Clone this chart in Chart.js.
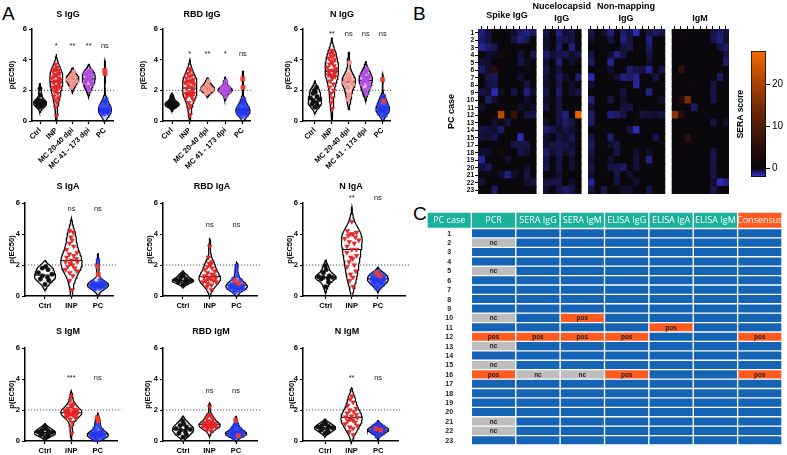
<!DOCTYPE html>
<html>
<head>
<meta charset="utf-8">
<title>Serology panels</title>
<script src="https://cdn.jsdelivr.net/npm/chart.js@4.4.1/dist/chart.umd.min.js"></script>
<style>
  body { margin: 0; background: #fff; }
  #page { position: relative; width: 787px; height: 455px; overflow: hidden; font-family: "Liberation Sans", Arial, sans-serif; }
  #page canvas { position: absolute; }
  .tag { position: absolute; font-size: 19px; line-height: 1; color: #000; }
</style>
</head>
<body>
<div id="page">
  <div class="tag" style="left:2px;top:4px">A</div>
  <div class="tag" style="left:413px;top:4px">B</div>
  <div class="tag" style="left:413px;top:204px">C</div>
</div>
<script>
Chart.defaults.font.family = '"Liberation Sans", Arial, sans-serif';
Chart.defaults.color = '#000';

const CAT5 = ['Ctrl', 'INP', 'MC 20-40 dpi', 'MC 41 - 173 dpi', 'PC'];
const CAT3 = ['Ctrl', 'INP', 'PC'];

// ---- panel A values, p(EC50) ----
const sIgG_ctrl = [0.9, 1.0, 1.05, 1.1, 1.15, 1.2, 1.25, 1.3, 1.4, 1.7, 2.1];
const sIgG_inp = [0.35, 0.9, 1.2, 1.4, 1.5, 1.6, 1.8, 1.9, 2.0, 2.1, 2.2, 2.2, 2.3, 2.4, 2.5, 2.6, 2.6, 2.7, 2.8, 2.8, 2.9, 3.0, 3.0, 3.1, 3.2, 3.3, 3.3, 3.4, 3.5, 3.7];
const sIgG_mc1 = [2.2, 2.4, 2.5, 2.6, 2.7, 2.8, 2.8, 2.9, 3.0, 3.2];
const sIgG_mc2 = [2.0, 2.2, 2.4, 2.5, 2.6, 2.7, 2.8, 2.9, 3.0, 3.1, 3.2, 3.3];
const sIgG_pc = [0.45, 0.5, 0.55, 0.6, 0.6, 0.62, 0.65, 0.68, 0.7, 0.7, 0.72, 0.75, 0.8, 0.85, 0.9, 1.0, 1.1, 1.2, 1.3, 1.4, 0.6];
const sIgG_pcPos = [3.3, 3.1];
const sIgG_sig = ['*', '**', '**', 'ns'];

const rbdIgG_ctrl = [0.85, 0.95, 1.0, 1.05, 1.1, 1.1, 1.15, 1.2, 1.3, 1.4, 1.6];
const rbdIgG_inp = [0.4, 0.8, 1.0, 1.2, 1.4, 1.5, 1.6, 1.7, 1.7, 1.75, 1.8, 1.8, 1.9, 2.0, 2.1, 2.2, 2.3, 2.4, 2.5, 2.5, 2.55, 2.6, 2.6, 2.7, 2.8, 2.9, 3.0, 3.1, 3.3, 3.4];
const rbdIgG_mc1 = [1.8, 1.9, 2.0, 2.05, 2.1, 2.15, 2.2, 2.3, 2.4, 2.6];
const rbdIgG_mc2 = [1.6, 1.8, 1.9, 1.95, 2.0, 2.0, 2.05, 2.1, 2.15, 2.2, 2.4, 2.6];
const rbdIgG_pc = [0.3, 0.4, 0.45, 0.5, 0.55, 0.6, 0.6, 0.62, 0.65, 0.7, 0.7, 0.75, 0.8, 0.85, 0.9, 1.0, 1.1, 1.2, 1.3, 1.4, 0.55];
const rbdIgG_pcPos = [2.75, 2.2];
const rbdIgG_sig = ['*', '**', '*', 'ns'];

const nIgG_ctrl = [0.9, 1.0, 1.1, 1.2, 1.3, 1.4, 1.5, 1.6, 1.8, 1.9, 2.0, 2.2];
const nIgG_inp = [0.8, 1.2, 1.5, 1.8, 2.0, 2.2, 2.4, 2.6, 2.8, 2.9, 2.9, 3.0, 3.0, 3.1, 3.2, 3.3, 3.3, 3.4, 3.5, 3.6, 3.7, 3.8, 3.9, 4.0, 4.1, 4.2, 4.3, 4.4, 4.5, 4.6];
const nIgG_mc1 = [1.4, 1.7, 2.2, 2.4, 2.5, 2.6, 2.7, 2.8, 3.0, 3.8];
const nIgG_mc2 = [1.8, 2.0, 2.2, 2.4, 2.5, 2.6, 2.7, 2.8, 2.9, 3.0, 3.2, 3.4];
const nIgG_pc = [0.3, 0.4, 0.5, 0.55, 0.6, 0.65, 0.7, 0.7, 0.75, 0.8, 0.85, 0.9, 0.95, 1.0, 1.1, 1.2, 1.3, 1.4, 1.5, 1.6, 0.8];
const nIgG_pcPos = [2.7, 1.3];
const nIgG_sig = ['**', 'ns', 'ns', 'ns'];

const sIgA_ctrl = [0.75, 1.0, 1.1, 1.2, 1.3, 1.4, 1.5, 1.7, 1.8, 1.9];
const sIgA_inp = [0.4, 1.0, 1.3, 1.5, 1.6, 1.7, 1.8, 1.9, 2.0, 2.1, 2.2, 2.2, 2.3, 2.4, 2.5, 2.6, 2.7, 2.8, 3.0, 3.2, 3.4, 3.6, 3.8, 4.1, 4.2];
const sIgA_pc = [0.45, 0.5, 0.55, 0.6, 0.6, 0.62, 0.65, 0.65, 0.7, 0.7, 0.7, 0.72, 0.75, 0.75, 0.8, 0.8, 0.85, 0.9, 1.0, 2.0, 2.3];
const sIgA_pcPos = [1.9, 1.4];
const sIgA_sig = ['ns', 'ns'];

const rbdIgA_ctrl = [0.75, 0.85, 0.9, 0.95, 1.0, 1.0, 1.05, 1.1, 1.2, 1.3, 1.4];
const rbdIgA_inp = [0.4, 0.6, 0.7, 0.8, 0.9, 0.9, 1.0, 1.0, 1.1, 1.1, 1.15, 1.2, 1.2, 1.3, 1.3, 1.4, 1.5, 1.6, 1.7, 1.8, 1.9, 2.0, 2.1, 2.2, 2.5, 3.2];
const rbdIgA_pc = [0.25, 0.35, 0.4, 0.45, 0.5, 0.5, 0.55, 0.55, 0.6, 0.6, 0.65, 0.7, 0.7, 0.75, 0.8, 0.9, 1.0, 1.1, 1.3, 1.6, 1.9];
const rbdIgA_pcPos = [1.0, 0.8];
const rbdIgA_sig = ['ns', 'ns'];

const nIgA_ctrl = [0.6, 0.9, 1.1, 1.15, 1.2, 1.2, 1.25, 1.3, 1.5, 1.7, 1.95];
const nIgA_inp = [0.6, 1.0, 1.2, 1.4, 1.6, 1.9, 2.0, 2.2, 2.4, 2.5, 2.6, 2.8, 3.0, 3.0, 3.2, 3.4, 3.5, 3.6, 3.7, 3.8, 3.9, 4.0, 4.0, 4.1, 4.2, 4.8];
const nIgA_pc = [0.5, 0.6, 0.7, 0.75, 0.8, 0.85, 0.9, 0.95, 1.0, 1.0, 1.05, 1.1, 1.1, 1.15, 1.2, 1.25, 1.3, 1.35, 1.4, 1.5, 1.6];
const nIgA_pcPos = [1.5, 1.3];
const nIgA_sig = ['**', 'ns'];

const sIgM_ctrl = [0.25, 0.35, 0.4, 0.45, 0.5, 0.55, 0.6, 0.65, 0.7, 0.8, 0.9];
const sIgM_inp = [0.5, 0.9, 1.2, 1.4, 1.5, 1.55, 1.6, 1.65, 1.7, 1.7, 1.75, 1.8, 1.8, 1.85, 1.9, 1.9, 1.95, 2.0, 2.0, 2.05, 2.1, 2.2, 2.3, 2.4, 2.6, 2.9];
const sIgM_pc = [0.1, 0.15, 0.2, 0.25, 0.3, 0.3, 0.35, 0.35, 0.4, 0.4, 0.45, 0.45, 0.5, 0.5, 0.55, 0.6, 0.7, 0.8, 0.9, 1.1, 1.2];
const sIgM_pcPos = [1.5, 1.3];
const sIgM_sig = ['***', 'ns'];

const rbdIgM_ctrl = [0.25, 0.4, 0.5, 0.6, 0.7, 0.75, 0.8, 0.9, 1.0, 1.1, 1.3];
const rbdIgM_inp = [0.6, 0.7, 0.8, 0.85, 0.9, 0.9, 0.95, 1.0, 1.0, 1.05, 1.1, 1.1, 1.15, 1.2, 1.25, 1.3, 1.4, 1.5, 1.6, 1.7, 2.2, 1.0];
const rbdIgM_pc = [0.2, 0.25, 0.3, 0.35, 0.4, 0.4, 0.45, 0.45, 0.5, 0.5, 0.55, 0.6, 0.6, 0.65, 0.7, 0.75, 0.8, 0.9, 1.0, 1.1, 0.5];
const rbdIgM_pcPos = [1.35, 0.35];
const rbdIgM_sig = ['ns', 'ns'];

const nIgM_ctrl = [0.5, 0.6, 0.7, 0.75, 0.8, 0.85, 0.9, 0.95, 1.0, 1.1, 1.2];
const nIgM_inp = [0.4, 0.6, 0.8, 0.9, 1.0, 1.1, 1.2, 1.3, 1.35, 1.4, 1.5, 1.55, 1.6, 1.7, 1.8, 1.9, 2.0, 2.1, 2.3, 2.5, 2.7, 2.9];
const nIgM_pc = [0.3, 0.4, 0.45, 0.5, 0.55, 0.6, 0.6, 0.65, 0.7, 0.7, 0.75, 0.75, 0.8, 0.8, 0.85, 0.9, 0.95, 1.0, 1.05, 1.1, 0.65];
const nIgM_pcPos = [0.8, 0.7];
const nIgM_sig = ['**', 'ns'];

const yTicksA = [0, 2, 4, 6];
const cutoff = 2;

// ---- panel B: SERA scores, rows = PC case ----
const hmRows = ['1', '2', '3', '4', '5', '6', '7', '8', '9', '10', '11', '12', '13', '14', '15', '17', '18', '19', '20', '21', '22', '23'];
const spikeIgG = [
  [-1, -0.5, 0.5, 0, 0, -0.3, -0.8, -1, -0.7],
  [-0.8, -0.5, 0, 0, 0, -0.5, -1, -0.6, 0],
  [-1.2, -0.8, -0.6, 0, 0, 0.3, 0, 0, 0],
  [0, -0.3, -0.2, 2, 0.5, 0, -0.4, 0, -0.5],
  [-0.4, -0.3, 0, 0, 0, 0, -0.5, -0.2, 0],
  [-0.8, -0.3, 5, 0, 0, 0, 0, 1.5, 1],
  [0, -0.5, -0.7, 0, 0, 0, -0.3, 0, 0],
  [0, -0.4, -0.5, 0, 0, 0, 0, -0.5, 0],
  [-0.5, -0.3, -1.5, -0.2, 0, -0.5, 0, -1, -0.3],
  [0, -0.8, -0.3, 0, 0, 0, 0, -0.3, 0],
  [-0.3, 0, 0, 0, 0, 0, -0.3, 0, -0.2],
  [0, 0.5, 1, 22, 0.5, 7, 0, -0.5, -0.5],
  [0, 0, -0.3, 0.8, -0.5, 0, 0, 0, 0],
  [-0.5, -0.4, -0.3, -0.8, 0, 0, 0, 0, 0.3],
  [-0.4, -0.3, -0.6, 0, 0, 0, -1.5, 0, 0],
  [0, 0, 0, 0, 0, -0.5, -0.5, -0.5, 0],
  [-0.3, -0.3, 0, 2, 0, 0, -0.5, -0.3, 0],
  [-1.2, 0, 0, 0, -0.3, 0, 0, 0.3, 0],
  [-0.4, -0.7, 0, 0, 0, 0, 0, -0.3, 0],
  [0.8, 0, 0, -0.3, -1, -0.3, 0, -0.5, 0],
  [-0.4, 0.5, 0, 0, 0, 0, 0.3, -0.3, -0.5],
  [0, 0, -0.8, 0, 0, 0, 0, 0, 0]
];
const nucIgG = [
  [-0.5, 0, -1, -0.3, -0.5, 0],
  [-0.3, 0, -0.6, -0.6, -0.5, 0.5],
  [-0.3, 0, -0.8, 0, -1, 0],
  [-0.8, -0.4, -0.5, -0.6, -0.3, -0.5],
  [-0.4, 0, -0.9, 0, -0.3, 0],
  [-0.6, 0, -0.4, 0, 0, 0],
  [-0.3, 0, -0.7, -0.3, 0, -0.9],
  [-0.3, 0, -0.6, 0, -0.3, 0],
  [-0.5, 0, -0.8, 0.3, -0.3, -0.5],
  [-0.3, 0, -0.5, 0, 0, 0],
  [-0.5, 0, -0.5, 0, 0, 0],
  [0, 0, -0.5, -1, 0, 27],
  [-0.3, 0, -0.4, -0.8, -0.5, 0],
  [-0.8, -0.6, -0.3, -0.5, -0.3, 0],
  [-0.3, 0, -0.5, -0.3, -0.6, 0],
  [-0.3, -0.5, -0.6, -0.5, -0.3, 0],
  [-0.8, -0.3, -0.6, -0.3, -0.5, 0],
  [-0.5, 0, -0.5, 0, -0.3, 0],
  [-0.6, 0, -0.5, 0, -0.3, 0],
  [0, 0, -0.3, 0, 0, 0],
  [-0.5, -0.5, -0.5, 0.3, -0.3, 0],
  [-0.3, 0, -0.5, -0.8, -0.5, 0]
];
const nonmapIgG = [
  [-0.5, 0, -0.3, -1, 0, -0.8, -0.5, -1.5, 0, -0.5, -0.8, -0.5],
  [-0.3, 0, 0, -0.5, 0, -1, -0.5, 0, 0, -1, 0, 0],
  [0, 0, 0, 0, 0, -0.4, -0.6, 0, 0, -0.8, 0, 0],
  [-0.5, 0, 0, -0.3, -1, -0.5, 0, 0, 0, -0.5, 0, 0],
  [-0.8, 0, 0, -1.2, 0, 0, 0, 0, 0, -0.3, 0, 0],
  [0, 0, 0, -0.3, 0, 0, -0.8, -0.5, -0.4, -1.2, 0, -0.5],
  [-1.5, 0, 0, 0, -0.3, -1, -0.8, -1.2, 0, 0, -0.5, 0],
  [-0.3, 0, 0, 0, 0, 0, 0, -1.3, 0, 0, 0, 0],
  [0, 0, 0, 0, 0, -0.4, 0, 0, 0, -1, 0, 0],
  [-1, 0, 0, -0.5, 0, -0.3, 0, 0, 0, 0, 0, -0.3],
  [-0.3, 0, 0, 0, 0, -0.4, -0.5, 0, 0, 0, 0, 0],
  [-0.8, 0, 0, -1, -0.8, -0.5, 0, 0, -0.5, -0.4, -0.3, -0.5],
  [-0.8, 0, 0, 0, 0.5, 0, 0, 0.5, 0, 0, 0, 0],
  [0, 0, 0, 0, 0, 0, -0.5, -1.5, 0, 0, 0, 0],
  [-0.5, 0, 0, -0.8, 0, 0, 0, 0, 0, 0, -0.5, 0],
  [-0.8, 0, 0, -0.3, -0.5, 0, 0, 0, 0, 0, 0, 0],
  [-0.5, 0, 0, 0, -0.5, 0, 0, -0.3, 0, -0.3, 0, 0],
  [-0.3, 0, 0, -0.3, 0, 0, 0, -0.4, 0, -1, 0, 0],
  [-0.6, 0, 0, -0.5, -0.5, -0.8, 0, -0.4, 0, 0, 0, 0],
  [-0.3, 0, 0, 0, -0.5, 0, -0.3, 0, 0, 0, 0, 0],
  [-1.2, 0, 0, 0, -0.4, 0, 0, -0.3, 0, 0, 0, 0],
  [-0.5, 0, -0.6, 0, 0, -0.3, -0.3, 0, 0, -0.5, 0, 0]
];
const igM = [
  [0, 0.5, 0.3, 0, 0, 0, -0.5, -0.8, -0.5],
  [0, 0.5, 0, 0, 0, 0, -0.6, -1, -0.3],
  [0, 0, 0, 0, 0, 0, 0, -0.5, -0.8],
  [0, 0, 0, 0, 0, 0, 0, 0, -0.5],
  [0, 0, 0, 0, 0, 0, 0, 0, -0.8],
  [0, 6, 0, 0, 0, 0, 0, 0, 0],
  [0, 0, 0, 0, 0, 0, 0, -0.8, 0],
  [0, 0, 0.5, 0, 0, 0, -0.5, 0, 0],
  [0, 0, 0, 0, 0, 0, -0.5, 0, 0],
  [0, 4, 15, 0, 0, 0, -0.5, 0, 0],
  [0, 0, 0, -0.8, 0, 0, 0, 0, 0],
  [17, 5, 0, 0, 0, 0, 0, 0, 0],
  [0, 0, 0, 0, 0, 0, -0.5, 0, -0.3],
  [0, 0.5, 0, 0, 0, 0, 0, 0, 0],
  [0, 0, 6, 0, 0, 0, 0, 0, 0],
  [0, 0, 0, 0, 0, 0, 0, 0, 0],
  [0, 0.5, 0, 0, 0, 0, -0.5, 0, 0],
  [0, 0, 0, 0, 0, 0, -0.6, 0, 0],
  [0, 0, 0, 0, 0, 0, -0.5, 0, 0],
  [0, 0, 0, 0, 0, 0, -0.5, 0, 0],
  [0, 0, 0, 0, 0, 0, -0.3, -1.5, -1],
  [0, 0, 0, 0, 0, 0, -0.6, 0, 0]
];
const blockNames = [['Spike IgG'], ['Nucelocapsid', 'IgG'], ['Non-mapping', 'IgG'], ['IgM']];
const cbMin = -2, cbMax = 28;
const cbTicks = [0, 10, 20];

// ---- panel C: call table ----
const tblCols = ['PC case', 'PCR', 'SERA IgG', 'SERA IgM', 'ELISA IgG', 'ELISA IgA', 'ELISA IgM', 'Consensus'];
const tblCases = ['1', '2', '3', '4', '5', '6', '7', '8', '9', '10', '11', '12', '13', '14', '15', '16', '17', '18', '19', '20', '21', '22', '23'];
const pcr       = ['', 'nc', '', '', 'nc', '', '', '', '', 'nc', '', 'pos', 'nc', '', 'nc', 'pos', '', '', '', '', 'nc', 'nc', ''];
const seraIgG   = ['', '', '', '', '', '', '', '', '', '', '', 'pos', '', '', '', 'nc', '', '', '', '', '', '', ''];
const seraIgM   = ['', '', '', '', '', '', '', '', '', 'pos', '', 'pos', '', '', '', 'nc', '', '', '', '', '', '', ''];
const elisaIgG  = ['', '', '', '', '', '', '', '', '', '', '', 'pos', '', '', '', 'pos', '', '', '', '', '', '', ''];
const elisaIgA  = ['', '', '', '', '', '', '', '', '', '', 'pos', '', '', '', '', '', '', '', '', '', '', '', ''];
const elisaIgM  = ['', '', '', '', '', '', '', '', '', '', '', '', '', '', '', '', '', '', '', '', '', '', ''];
const consensus = ['', '', '', '', '', '', '', '', '', '', '', 'pos', '', '', '', 'pos', '', '', '', '', '', '', ''];

// ---------------------------------------------------------------
const page = document.getElementById('page');

function addCanvas(box) {
  const c = document.createElement('canvas');
  c.width = box[2];
  c.height = box[3];
  c.style.left = box[0] + 'px';
  c.style.top = box[1] + 'px';
  page.appendChild(c);
  return c;
}

const STYLE = {
  'Ctrl': { pt: '#111', edge: '#111', shape: 'circle', rot: 0, r: 2.2, fill: 'rgba(255,255,255,0.85)' },
  'INP': { pt: '#f3262c', edge: '#c81818', shape: 'triangle', rot: 180, r: 2.7, fill: 'rgba(255,255,255,0.85)' },
  'MC 20-40 dpi': { pt: '#f39a94', edge: '#e57f78', shape: 'circle', rot: 0, r: 2.2, fill: '#f7c2bd' },
  'MC 41 - 173 dpi': { pt: '#b652e6', edge: '#9d3ccf', shape: 'circle', rot: 0, r: 2.2, fill: '#ddb2f2' },
  'PC': { pt: 'rgba(35,55,240,0.8)', edge: 'rgba(35,55,240,0.9)', shape: 'rect', rot: 0, r: 2.7, fill: 'rgba(120,140,255,0.35)' }
};

function median(a) {
  const s = a.slice().sort((p, q) => p - q);
  const m = Math.floor(s.length / 2);
  return s.length % 2 ? s[m] : (s[m - 1] + s[m]) / 2;
}

// kernel density outline of one violin, centred on category c
function violinShape(vals, c, half) {
  const n = vals.length;
  const mean = vals.reduce((a, b) => a + b, 0) / n;
  const sd = Math.sqrt(vals.reduce((a, b) => a + (b - mean) ** 2, 0) / (n - 1));
  const h = Math.max(0.12, 0.9 * sd * Math.pow(n, -0.2));
  const dens = y => vals.reduce((s, v) => s + Math.exp(-0.5 * ((y - v) / h) ** 2), 0);
  const lo = Math.max(0, Math.min(...vals) - 1.8 * h);
  const hi = Math.max(...vals) + 1.8 * h;
  const ys = [];
  for (let i = 0; i <= 48; i++) ys.push(lo + (hi - lo) * i / 48);
  const ds = ys.map(dens);
  const dmax = Math.max(...ds);
  const w = y => half * dens(y) / dmax;
  const right = ys.map((y, i) => ({ x: c + half * ds[i] / dmax, y }));
  const left = ys.map((y, i) => ({ x: c - half * ds[i] / dmax, y })).reverse();
  return { outline: [{ x: c, y: lo }, ...right, { x: c, y: hi }, ...left, { x: c, y: lo }], w };
}

const JIT = [0, 0.6, -0.6, 0.3, -0.3, 0.85, -0.85, 0.45, -0.45, 0.15, -0.15, 0.7, -0.7];
function spread(vals, c, w, shift) {
  const s = vals.slice().sort((a, b) => a - b);
  return s.map((v, k) => ({ x: c + w(v) * 0.8 * JIT[(k + shift) % JIT.length], y: v }));
}

const PANELS = [
  { title: 'S IgG', cats: CAT5, sets: [sIgG_ctrl, sIgG_inp, sIgG_mc1, sIgG_mc2, sIgG_pc], pos: sIgG_pcPos, sig: sIgG_sig, sigY: 4.9,
    box: [0, 0, 120, 172], area: [32, 29, 113, 121], xr: [0.5, 5.5], tpos: [68, 15], ytp: 7.5, rot: 45 },
  { title: 'RBD IgG', cats: CAT5, sets: [rbdIgG_ctrl, rbdIgG_inp, rbdIgG_mc1, rbdIgG_mc2, rbdIgG_pc], pos: rbdIgG_pcPos, sig: rbdIgG_sig, sigY: 4.4,
    box: [130, 0, 125, 172], area: [163, 29, 250, 121], xr: [0.49, 5.4], tpos: [202, 15], ytp: 8.5, rot: 45 },
  { title: 'N IgG', cats: CAT5, sets: [nIgG_ctrl, nIgG_inp, nIgG_mc1, nIgG_mc2, nIgG_pc], pos: nIgG_pcPos, sig: nIgG_sig, sigY: 5.7,
    box: [270, 0, 125, 172], area: [303, 29, 392, 121], xr: [0.3, 5.46], tpos: [342, 15], ytp: 13.5, rot: 45 },
  { title: 'S IgA', cats: CAT3, sets: [sIgA_ctrl, sIgA_inp, sIgA_pc], pos: sIgA_pcPos, sig: sIgA_sig, sigY: 5.6,
    box: [0, 175, 122, 140], area: [25, 203, 113, 296], xr: [0.245, 3.57], tpos: [68, 187], ytp: 7.5, rot: 0 },
  { title: 'RBD IgA', cats: CAT3, sets: [rbdIgA_ctrl, rbdIgA_inp, rbdIgA_pc], pos: rbdIgA_pcPos, sig: rbdIgA_sig, sigY: 4.6,
    box: [130, 175, 132, 140], area: [163, 203, 258, 296], xr: [0.26, 3.78], tpos: [212, 187], ytp: 15.5, rot: 0 },
  { title: 'N IgA', cats: CAT3, sets: [nIgA_ctrl, nIgA_inp, nIgA_pc], pos: nIgA_pcPos, sig: nIgA_sig, sigY: 6.3,
    box: [270, 175, 140, 140], area: [303, 203, 407, 296], xr: [0.13, 4.06], tpos: [351, 187], ytp: 15.5, rot: 0 },
  { title: 'S IgM', cats: CAT3, sets: [sIgM_ctrl, sIgM_inp, sIgM_pc], pos: sIgM_pcPos, sig: sIgM_sig, sigY: 4.06,
    box: [0, 318, 122, 137], area: [25, 348, 118, 441], xr: [0.245, 3.75], tpos: [68, 332], ytp: 7.5, rot: 0 },
  { title: 'RBD IgM', cats: CAT3, sets: [rbdIgM_ctrl, rbdIgM_inp, rbdIgM_pc], pos: rbdIgM_pcPos, sig: rbdIgM_sig, sigY: 3.2,
    box: [130, 318, 132, 137], area: [163, 348, 257, 441], xr: [0.245, 3.79], tpos: [211, 332], ytp: 13.5, rot: 0 },
  { title: 'N IgM', cats: CAT3, sets: [nIgM_ctrl, nIgM_inp, nIgM_pc], pos: nIgM_pcPos, sig: nIgM_sig, sigY: 4.1,
    box: [270, 318, 140, 137], area: [303, 348, 398, 441], xr: [0.17, 3.75], tpos: [347, 332], ytp: 17.5, rot: 0 }
];

function panelDeco(p) {
  return {
    id: 'panelDeco',
    afterDraw(chart) {
      const { ctx, scales } = chart;
      ctx.save();
      ctx.fillStyle = '#000';
      ctx.textAlign = 'center';
      ctx.textBaseline = 'middle';
      ctx.font = 'bold 9px "Liberation Sans", Arial, sans-serif';
      ctx.fillText(p.title, p.tpos[0] - p.box[0], p.tpos[1] - p.box[1]);
      ctx.font = '7.5px "Liberation Sans", Arial, sans-serif';
      ctx.fillStyle = '#222';
      p.sig.forEach((s, k) => {
        ctx.fillText(s, scales.x.getPixelForValue(k + 2), scales.y.getPixelForValue(p.sigY));
      });
      ctx.restore();
    }
  };
}

function violinChart(p) {
  const [bl, bt, bw, bh] = p.box;
  const [al, at, ar, ab] = p.area;
  const half = 0.4;
  const datasets = [{
    data: [{ x: p.xr[0], y: cutoff }, { x: p.xr[1] + 0.15, y: cutoff }],
    showLine: true, borderColor: '#555', borderWidth: 1, borderDash: [1.2, 1.8],
    pointRadius: 0, order: 9, clip: false
  }];
  p.sets.forEach((vals, i) => {
    const cat = p.cats[i];
    const st = STYLE[cat];
    const c = i + 1;
    const all = cat === 'PC' ? vals.concat(p.pos) : vals;
    const vio = violinShape(all, c, half);
    datasets.push({
      data: vio.outline, showLine: true, fill: 'shape', backgroundColor: st.fill,
      borderColor: '#000', borderWidth: 1.2, pointRadius: 0, order: 4, clip: false
    });
    const med = median(all);
    datasets.push({
      data: [{ x: c - vio.w(med), y: med }, { x: c + vio.w(med), y: med }],
      showLine: true, borderColor: '#000', borderWidth: 1, pointRadius: 0, order: 3, clip: false
    });
    datasets.push({
      data: spread(vals, c, vio.w, i), pointStyle: st.shape, rotation: st.rot, pointRadius: st.r,
      backgroundColor: st.pt, borderColor: st.edge, borderWidth: 0.5, order: 2, clip: false
    });
    if (cat === 'PC') {
      datasets.push({
        data: spread(p.pos, c, vio.w, 3), pointStyle: 'rect', pointRadius: 3,
        backgroundColor: '#ec3b33', borderColor: '#ec3b33', borderWidth: 0.5, order: 1, clip: false
      });
    }
  });

  new Chart(addCanvas(p.box), {
    type: 'scatter',
    data: { datasets },
    options: {
      responsive: false,
      animation: false,
      events: [],
      layout: { padding: { top: at - bt, right: bl + bw - ar, bottom: 0, left: 0 } },
      plugins: { legend: { display: false }, tooltip: { enabled: false } },
      scales: {
        x: {
          type: 'linear', min: p.xr[0], max: p.xr[1],
          afterBuildTicks: s => { s.ticks = p.cats.map((_, i) => ({ value: i + 1 })); },
          afterFit: s => { s.height = bt + bh - ab; },
          ticks: {
            callback: v => p.cats[v - 1], autoSkip: false, padding: 2,
            minRotation: p.rot, maxRotation: p.rot,
            font: { size: 7.5, weight: 'bold' }, color: '#000'
          },
          grid: { drawOnChartArea: false, tickLength: 3, tickColor: '#000', tickWidth: 1.2 },
          border: { color: '#000', width: 1.5 }
        },
        y: {
          min: 0, max: 6,
          afterBuildTicks: s => { s.ticks = yTicksA.map(v => ({ value: v })); },
          afterFit: s => { s.width = al - bl; },
          ticks: { padding: 2, font: { size: 7.5, weight: 'bold' }, color: '#000' },
          grid: { drawOnChartArea: false, tickLength: 3, tickColor: '#000', tickWidth: 1.2 },
          border: { color: '#000', width: 1.5 },
          title: { display: true, text: 'p(EC50)', font: { size: 7.5, weight: 'bold' }, padding: { top: p.ytp, bottom: 0 } }
        }
      }
    },
    plugins: [panelDeco(p)]
  });
}

PANELS.forEach(violinChart);

// ---------------- heatmap (B) ----------------
function heatRGB(v) {
  if (v < 0) {
    const t = Math.min(1, -v / 2);
    return [10 + 45 * t, 8 + 47 * t, 12 + 223 * t];
  }
  const t = Math.min(1, v / 28);
  return [10 + 235 * Math.pow(t, 1.2), 8 + 97 * Math.pow(t, 1.6), 12 * (1 - t)];
}
function heatColor(v) {
  if (v === null) return '#ffffff';
  const c = heatRGB(v).map(Math.round);
  return `rgb(${c[0]},${c[1]},${c[2]})`;
}

const hmBlocks = [spikeIgG, nucIgG, nonmapIgG, igM];
const hmGrid = hmRows.map((_, r) => {
  const row = [];
  hmBlocks.forEach((b, k) => {
    if (k) row.push(null);
    row.push(...b[r]);
  });
  return row;
});
const nCols = hmGrid[0].length;
const blockCentres = [];
{
  let start = 0;
  hmBlocks.forEach(b => {
    blockCentres.push(start + b[0].length / 2);
    start += b[0].length + 1;
  });
}

const hmDatasets = [];
for (let j = 0; j < nCols; j++) {
  hmDatasets.push({
    data: hmRows.map(() => 1),
    backgroundColor: hmGrid.map(row => heatColor(row[j])),
    borderWidth: 0, barPercentage: 1, categoryPercentage: 1,
    inflateAmount: 0.6
  });
}

const hmLabels = {
  id: 'hmLabels',
  afterDraw(chart) {
    const { ctx, scales } = chart;
    ctx.save();
    ctx.fillStyle = '#000';
    ctx.textAlign = 'center';
    ctx.textBaseline = 'middle';
    ctx.font = 'bold 9px "Liberation Sans", Arial, sans-serif';
    blockNames.forEach((lines, k) => {
      const x = scales.x.getPixelForValue(blockCentres[k]);
      if (lines.length === 1) {
        ctx.fillText(lines[0], x, lines[0] === 'IgM' ? 19 : 16);
      } else {
        ctx.fillText(lines[0], x, 7);
        ctx.fillText(lines[1], x, 18.5);
      }
    });
    ctx.restore();
  }
};

const hmBox = [430, 0, 305, 205];
new Chart(addCanvas(hmBox), {
  type: 'bar',
  data: { labels: hmRows, datasets: hmDatasets },
  options: {
    indexAxis: 'y',
    responsive: false,
    animation: false,
    events: [],
    layout: { padding: { top: 0, right: 6, bottom: 11, left: 0 } },
    plugins: { legend: { display: false }, tooltip: { enabled: false } },
    scales: {
      x: {
        stacked: true, position: 'top', min: 0, max: nCols,
        afterBuildTicks: s => {
          s.ticks = hmGrid[0].map((v, j) => (v === null ? null : { value: j + 0.5 })).filter(Boolean);
        },
        afterFit: s => { s.height = 29; },
        ticks: { display: false },
        grid: { drawOnChartArea: false, tickLength: 3, tickColor: '#000', tickWidth: 1 },
        border: { display: false }
      },
      y: {
        stacked: true,
        afterFit: s => { s.width = 48; },
        ticks: { autoSkip: false, padding: 1, font: { size: 6.5, weight: 'bold' }, color: '#000' },
        grid: { offset: false, drawOnChartArea: false, tickLength: 3, tickColor: '#000', tickWidth: 1 },
        border: { display: false },
        title: { display: true, text: 'PC case', font: { size: 9, weight: 'bold' }, padding: { top: 16.5, bottom: 0 } }
      }
    }
  },
  plugins: [hmLabels]
});

// colour bar
function barGradient(chart) {
  const { ctx, chartArea, scales } = chart;
  if (!chartArea) return '#000';
  const y0 = scales.y.getPixelForValue(cbMin);
  const y1 = scales.y.getPixelForValue(cbMax);
  const g = ctx.createLinearGradient(0, y0, 0, y1);
  for (let v = cbMin; v <= cbMax; v += 1) {
    const c = heatRGB(v).map(Math.round);
    g.addColorStop((v - cbMin) / (cbMax - cbMin), `rgb(${c[0]},${c[1]},${c[2]})`);
  }
  return g;
}
const cbTitle = {
  id: 'cbTitle',
  afterDraw(chart) {
    const { ctx, chartArea } = chart;
    ctx.save();
    ctx.translate(6, (chartArea.top + chartArea.bottom) / 2);
    ctx.rotate(-Math.PI / 2);
    ctx.textAlign = 'center';
    ctx.textBaseline = 'middle';
    ctx.fillStyle = '#000';
    ctx.font = 'bold 8.5px "Liberation Sans", Arial, sans-serif';
    ctx.fillText('SERA score', 0, 0);
    ctx.restore();
  }
};
new Chart(addCanvas([735, 40, 52, 150]), {
  type: 'bar',
  data: {
    labels: [''],
    datasets: [{
      data: [[cbMin, cbMax]], backgroundColor: ctx => barGradient(ctx.chart),
      borderColor: '#000', borderWidth: 1, borderSkipped: false, barPercentage: 1, categoryPercentage: 1
    }]
  },
  options: {
    responsive: false,
    animation: false,
    events: [],
    layout: { padding: { top: 11, right: 0, bottom: 13, left: 16 } },
    plugins: { legend: { display: false }, tooltip: { enabled: false } },
    scales: {
      x: { display: false },
      y: {
        position: 'right', min: cbMin, max: cbMax,
        afterBuildTicks: s => { s.ticks = cbTicks.map(v => ({ value: v })); },
        afterFit: s => { s.width = 21; },
        ticks: { padding: 2, font: { size: 10 }, color: '#000' },
        grid: { drawOnChartArea: false, tickLength: 4, tickColor: '#000', tickWidth: 1 },
        border: { display: false }
      }
    }
  },
  plugins: [cbTitle]
});

// ---------------- table (C) ----------------
const TEAL = '#19b09c', ORANGE = '#ff5a20', BLUE = '#1463b4', GREY = '#bdbdbd';
const tblStates = [pcr, seraIgG, seraIgM, elisaIgG, elisaIgA, elisaIgM, consensus];
const cellColor = s => (s === 'pos' ? ORANGE : s === 'nc' ? GREY : BLUE);

const tblDatasets = [{
  data: tblCols.map(() => 1.75),
  backgroundColor: tblCols.map(c => (c === 'Consensus' ? ORANGE : TEAL)),
  texts: tblCols
}];
tblCases.forEach((cs, r) => {
  tblDatasets.push({
    data: tblCols.map(() => 1),
    backgroundColor: ['#ffffff'].concat(tblStates.map(col => cellColor(col[r]))),
    texts: [cs].concat(tblStates.map(col => col[r]))
  });
});
tblDatasets.forEach(d => Object.assign(d, {
  borderColor: '#ffffff', borderWidth: 1, borderSkipped: false, barPercentage: 1, categoryPercentage: 1
}));

const tableText = {
  id: 'tableText',
  afterDatasetsDraw(chart) {
    const ctx = chart.ctx;
    ctx.save();
    ctx.textAlign = 'center';
    ctx.textBaseline = 'middle';
    chart.data.datasets.forEach((ds, r) => {
      chart.getDatasetMeta(r).data.forEach((el, c) => {
        const txt = ds.texts[c];
        if (!txt) return;
        if (r === 0) {
          ctx.font = '9px "Open Sans", sans-serif';
          ctx.fillStyle = '#fff';
        } else {
          ctx.font = 'bold ' + (c === 0 ? 7 : 6.5) + 'px "Liberation Sans", Arial, sans-serif';
          ctx.fillStyle = '#222';
        }
        ctx.fillText(txt, el.x, (el.y + el.base) / 2 + 0.5);
      });
    });
    ctx.restore();
  }
};

new Chart(addCanvas([420, 205, 367, 250]), {
  type: 'bar',
  data: { labels: tblCols, datasets: tblDatasets },
  options: {
    responsive: false,
    animation: false,
    events: [],
    layout: { padding: { top: 7, right: 5, bottom: 10, left: 7 } },
    plugins: { legend: { display: false }, tooltip: { enabled: false } },
    scales: {
      x: { stacked: true, display: false },
      y: { stacked: true, display: false, reverse: true, min: 0, max: 1.75 + tblCases.length }
    }
  },
  plugins: [tableText]
});
</script>
</body>
</html>
